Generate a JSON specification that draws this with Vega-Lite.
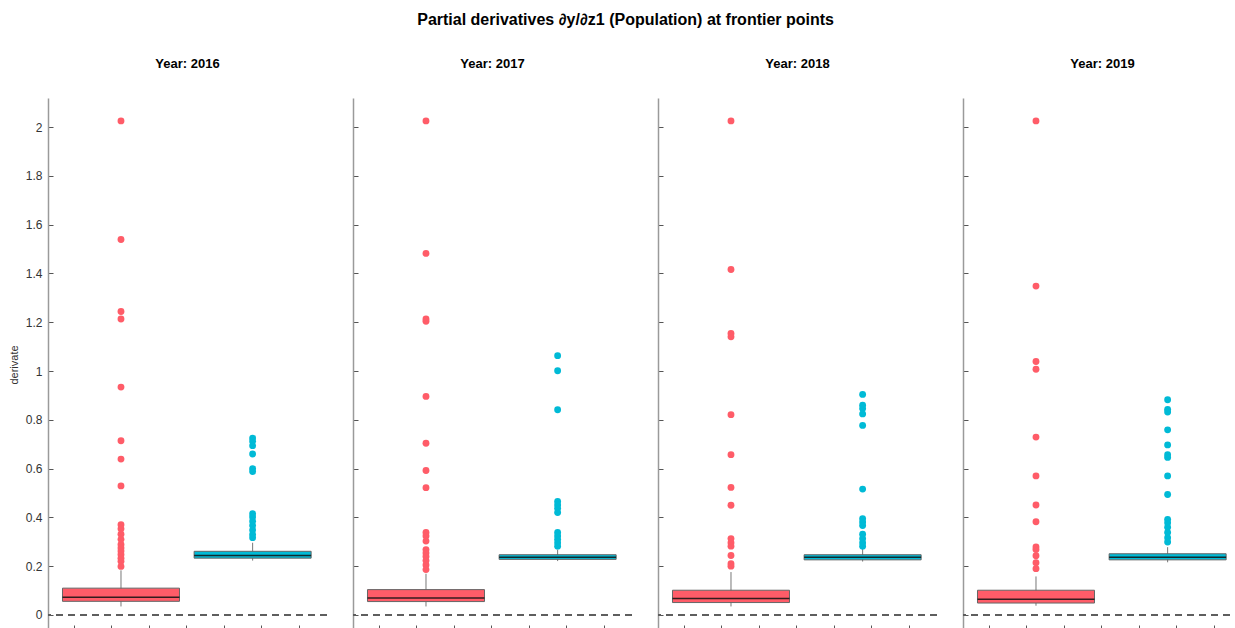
{
  "$schema": "https://vega.github.io/schema/vega-lite/v6.json",
  "padding": {"left": 8, "top": 12, "right": 5, "bottom": 0},
  "title": {"text": "Partial derivatives ∂y/∂z1 (Population) at frontier points", "fontSize": 16, "fontWeight": "bold", "color": "#000", "anchor": "middle", "offset": 30},
  "datasets": {
    "boxes": [
      {"year": 2016, "group": 1, "lower": 0.035, "q1": 0.056, "median": 0.073, "q3": 0.110, "upper": 0.183},
      {"year": 2016, "group": 2, "lower": 0.223, "q1": 0.233, "median": 0.244, "q3": 0.261, "upper": 0.296},
      {"year": 2017, "group": 1, "lower": 0.035, "q1": 0.055, "median": 0.070, "q3": 0.104, "upper": 0.169},
      {"year": 2017, "group": 2, "lower": 0.221, "q1": 0.228, "median": 0.237, "q3": 0.247, "upper": 0.268},
      {"year": 2018, "group": 1, "lower": 0.035, "q1": 0.051, "median": 0.068, "q3": 0.1015, "upper": 0.176},
      {"year": 2018, "group": 2, "lower": 0.219, "q1": 0.226, "median": 0.237, "q3": 0.247, "upper": 0.272},
      {"year": 2019, "group": 1, "lower": 0.038, "q1": 0.049, "median": 0.065, "q3": 0.1015, "upper": 0.158},
      {"year": 2019, "group": 2, "lower": 0.216, "q1": 0.226, "median": 0.237, "q3": 0.251, "upper": 0.278}
    ],
    "outliers": [
      {"year": 2016, "group": 1, "value": 2.025},
      {"year": 2016, "group": 1, "value": 1.539},
      {"year": 2016, "group": 1, "value": 1.244},
      {"year": 2016, "group": 1, "value": 1.213},
      {"year": 2016, "group": 1, "value": 0.934},
      {"year": 2016, "group": 1, "value": 0.714},
      {"year": 2016, "group": 1, "value": 0.639},
      {"year": 2016, "group": 1, "value": 0.529},
      {"year": 2016, "group": 1, "value": 0.370},
      {"year": 2016, "group": 1, "value": 0.353},
      {"year": 2016, "group": 1, "value": 0.331},
      {"year": 2016, "group": 1, "value": 0.310},
      {"year": 2016, "group": 1, "value": 0.289},
      {"year": 2016, "group": 1, "value": 0.275},
      {"year": 2016, "group": 1, "value": 0.262},
      {"year": 2016, "group": 1, "value": 0.248},
      {"year": 2016, "group": 1, "value": 0.233},
      {"year": 2016, "group": 1, "value": 0.220},
      {"year": 2016, "group": 1, "value": 0.199},
      {"year": 2016, "group": 2, "value": 0.725},
      {"year": 2016, "group": 2, "value": 0.712},
      {"year": 2016, "group": 2, "value": 0.694},
      {"year": 2016, "group": 2, "value": 0.660},
      {"year": 2016, "group": 2, "value": 0.600},
      {"year": 2016, "group": 2, "value": 0.588},
      {"year": 2016, "group": 2, "value": 0.415},
      {"year": 2016, "group": 2, "value": 0.402},
      {"year": 2016, "group": 2, "value": 0.384},
      {"year": 2016, "group": 2, "value": 0.367},
      {"year": 2016, "group": 2, "value": 0.348},
      {"year": 2016, "group": 2, "value": 0.330},
      {"year": 2016, "group": 2, "value": 0.317},
      {"year": 2017, "group": 1, "value": 2.025},
      {"year": 2017, "group": 1, "value": 1.482},
      {"year": 2017, "group": 1, "value": 1.213},
      {"year": 2017, "group": 1, "value": 1.204},
      {"year": 2017, "group": 1, "value": 0.896},
      {"year": 2017, "group": 1, "value": 0.704},
      {"year": 2017, "group": 1, "value": 0.592},
      {"year": 2017, "group": 1, "value": 0.522},
      {"year": 2017, "group": 1, "value": 0.338},
      {"year": 2017, "group": 1, "value": 0.324},
      {"year": 2017, "group": 1, "value": 0.303},
      {"year": 2017, "group": 1, "value": 0.268},
      {"year": 2017, "group": 1, "value": 0.254},
      {"year": 2017, "group": 1, "value": 0.240},
      {"year": 2017, "group": 1, "value": 0.223},
      {"year": 2017, "group": 1, "value": 0.205},
      {"year": 2017, "group": 1, "value": 0.186},
      {"year": 2017, "group": 2, "value": 1.063},
      {"year": 2017, "group": 2, "value": 1.001},
      {"year": 2017, "group": 2, "value": 0.841},
      {"year": 2017, "group": 2, "value": 0.465},
      {"year": 2017, "group": 2, "value": 0.451},
      {"year": 2017, "group": 2, "value": 0.437},
      {"year": 2017, "group": 2, "value": 0.420},
      {"year": 2017, "group": 2, "value": 0.338},
      {"year": 2017, "group": 2, "value": 0.324},
      {"year": 2017, "group": 2, "value": 0.310},
      {"year": 2017, "group": 2, "value": 0.296},
      {"year": 2017, "group": 2, "value": 0.282},
      {"year": 2018, "group": 1, "value": 2.025},
      {"year": 2018, "group": 1, "value": 1.416},
      {"year": 2018, "group": 1, "value": 1.154},
      {"year": 2018, "group": 1, "value": 1.140},
      {"year": 2018, "group": 1, "value": 0.821},
      {"year": 2018, "group": 1, "value": 0.657},
      {"year": 2018, "group": 1, "value": 0.523},
      {"year": 2018, "group": 1, "value": 0.450},
      {"year": 2018, "group": 1, "value": 0.313},
      {"year": 2018, "group": 1, "value": 0.296},
      {"year": 2018, "group": 1, "value": 0.282},
      {"year": 2018, "group": 1, "value": 0.244},
      {"year": 2018, "group": 1, "value": 0.210},
      {"year": 2018, "group": 1, "value": 0.200},
      {"year": 2018, "group": 2, "value": 0.904},
      {"year": 2018, "group": 2, "value": 0.860},
      {"year": 2018, "group": 2, "value": 0.846},
      {"year": 2018, "group": 2, "value": 0.824},
      {"year": 2018, "group": 2, "value": 0.777},
      {"year": 2018, "group": 2, "value": 0.516},
      {"year": 2018, "group": 2, "value": 0.395},
      {"year": 2018, "group": 2, "value": 0.381},
      {"year": 2018, "group": 2, "value": 0.367},
      {"year": 2018, "group": 2, "value": 0.331},
      {"year": 2018, "group": 2, "value": 0.313},
      {"year": 2018, "group": 2, "value": 0.296},
      {"year": 2018, "group": 2, "value": 0.282},
      {"year": 2019, "group": 1, "value": 2.025},
      {"year": 2019, "group": 1, "value": 1.348},
      {"year": 2019, "group": 1, "value": 1.039},
      {"year": 2019, "group": 1, "value": 1.007},
      {"year": 2019, "group": 1, "value": 0.729},
      {"year": 2019, "group": 1, "value": 0.570},
      {"year": 2019, "group": 1, "value": 0.451},
      {"year": 2019, "group": 1, "value": 0.382},
      {"year": 2019, "group": 1, "value": 0.279},
      {"year": 2019, "group": 1, "value": 0.268},
      {"year": 2019, "group": 1, "value": 0.243},
      {"year": 2019, "group": 1, "value": 0.214},
      {"year": 2019, "group": 1, "value": 0.190},
      {"year": 2019, "group": 2, "value": 0.882},
      {"year": 2019, "group": 2, "value": 0.843},
      {"year": 2019, "group": 2, "value": 0.832},
      {"year": 2019, "group": 2, "value": 0.759},
      {"year": 2019, "group": 2, "value": 0.697},
      {"year": 2019, "group": 2, "value": 0.657},
      {"year": 2019, "group": 2, "value": 0.646},
      {"year": 2019, "group": 2, "value": 0.570},
      {"year": 2019, "group": 2, "value": 0.494},
      {"year": 2019, "group": 2, "value": 0.392},
      {"year": 2019, "group": 2, "value": 0.378},
      {"year": 2019, "group": 2, "value": 0.360},
      {"year": 2019, "group": 2, "value": 0.338},
      {"year": 2019, "group": 2, "value": 0.317},
      {"year": 2019, "group": 2, "value": 0.299}
    ]
  },
  "spacing": 24,
  "hconcat": [
    {
      "width": 279, "height": 533,
      "title": {"text": "Year: 2016", "fontSize": 13, "fontWeight": "bold", "anchor": "middle", "offset": 27},
      "encoding": {
        "x": {"field": "group", "type": "quantitative", "scale": {"domain": [0.4835, 2.527], "nice": false, "zero": false}, "axis": {"values": [0.64, 0.925, 1.21, 1.495, 1.78, 2.065, 2.35], "labels": false, "title": null, "domain": false, "tickSize": -6}},
        "y": {"type": "quantitative", "scale": {"domain": [-0.0656, 2.1189], "nice": false, "zero": false}, "axis": {"values": [0, 0.2, 0.4, 0.6, 0.8, 1, 1.2, 1.4, 1.6, 1.8, 2], "format": "~g", "title": "derivate", "tickSize": -5, "labelPadding": 11, "titlePadding": 6}}
      },
      "layer": [
        {"data": {"values": [{}]}, "mark": {"type": "rule", "color": "#5e5e5e", "strokeDash": [7, 5], "strokeWidth": 1.8}, "encoding": {"x": null, "y": {"datum": 0, "type": "quantitative"}}},
        {"data": {"name": "boxes"}, "transform": [{"filter": "datum.year == 2016"}], "mark": {"type": "rule", "color": "#777", "strokeWidth": 1}, "encoding": {"y": {"field": "lower"}, "y2": {"field": "upper"}}},
        {"data": {"name": "boxes"}, "transform": [{"filter": "datum.year == 2016"}], "mark": {"type": "bar", "width": 117, "stroke": "#666", "strokeWidth": 1, "opacity": 1}, "encoding": {"y": {"field": "q1"}, "y2": {"field": "q3"}, "color": {"field": "group", "type": "nominal", "scale": {"domain": [1, 2], "range": ["#FF5C68", "#00BAD6"]}, "legend": null}}},
        {"data": {"name": "boxes"}, "transform": [{"filter": "datum.year == 2016"}], "mark": {"type": "tick", "orient": "horizontal", "size": 117, "thickness": 1.5, "color": "#111", "opacity": 0.85}, "encoding": {"y": {"field": "median"}}},
        {"data": {"name": "outliers"}, "transform": [{"filter": "datum.year == 2016"}], "mark": {"type": "circle", "size": 47, "opacity": 1}, "encoding": {"y": {"field": "value"}, "color": {"field": "group", "type": "nominal", "scale": {"domain": [1, 2], "range": ["#FF5C68", "#00BAD6"]}, "legend": null}}}
      ]
    },
    {
      "width": 279, "height": 533,
      "title": {"text": "Year: 2017", "fontSize": 13, "fontWeight": "bold", "anchor": "middle", "offset": 27},
      "encoding": {
        "x": {"field": "group", "type": "quantitative", "scale": {"domain": [0.4835, 2.527], "nice": false, "zero": false}, "axis": {"values": [0.64, 0.925, 1.21, 1.495, 1.78, 2.065, 2.35], "labels": false, "title": null, "domain": false, "tickSize": -6}},
        "y": {"type": "quantitative", "scale": {"domain": [-0.0656, 2.1189], "nice": false, "zero": false}, "axis": {"values": [0, 0.2, 0.4, 0.6, 0.8, 1, 1.2, 1.4, 1.6, 1.8, 2], "labels": false, "title": null, "tickSize": -5}}
      },
      "layer": [
        {"data": {"values": [{}]}, "mark": {"type": "rule", "color": "#5e5e5e", "strokeDash": [7, 5], "strokeWidth": 1.8}, "encoding": {"x": null, "y": {"datum": 0, "type": "quantitative"}}},
        {"data": {"name": "boxes"}, "transform": [{"filter": "datum.year == 2017"}], "mark": {"type": "rule", "color": "#777", "strokeWidth": 1}, "encoding": {"y": {"field": "lower"}, "y2": {"field": "upper"}}},
        {"data": {"name": "boxes"}, "transform": [{"filter": "datum.year == 2017"}], "mark": {"type": "bar", "width": 117, "stroke": "#666", "strokeWidth": 1, "opacity": 1}, "encoding": {"y": {"field": "q1"}, "y2": {"field": "q3"}, "color": {"field": "group", "type": "nominal", "scale": {"domain": [1, 2], "range": ["#FF5C68", "#00BAD6"]}, "legend": null}}},
        {"data": {"name": "boxes"}, "transform": [{"filter": "datum.year == 2017"}], "mark": {"type": "tick", "orient": "horizontal", "size": 117, "thickness": 1.5, "color": "#111", "opacity": 0.85}, "encoding": {"y": {"field": "median"}}},
        {"data": {"name": "outliers"}, "transform": [{"filter": "datum.year == 2017"}], "mark": {"type": "circle", "size": 47, "opacity": 1}, "encoding": {"y": {"field": "value"}, "color": {"field": "group", "type": "nominal", "scale": {"domain": [1, 2], "range": ["#FF5C68", "#00BAD6"]}, "legend": null}}}
      ]
    },
    {
      "width": 279, "height": 533,
      "title": {"text": "Year: 2018", "fontSize": 13, "fontWeight": "bold", "anchor": "middle", "offset": 27},
      "encoding": {
        "x": {"field": "group", "type": "quantitative", "scale": {"domain": [0.4835, 2.527], "nice": false, "zero": false}, "axis": {"values": [0.64, 0.925, 1.21, 1.495, 1.78, 2.065, 2.35], "labels": false, "title": null, "domain": false, "tickSize": -6}},
        "y": {"type": "quantitative", "scale": {"domain": [-0.0656, 2.1189], "nice": false, "zero": false}, "axis": {"values": [0, 0.2, 0.4, 0.6, 0.8, 1, 1.2, 1.4, 1.6, 1.8, 2], "labels": false, "title": null, "tickSize": -5}}
      },
      "layer": [
        {"data": {"values": [{}]}, "mark": {"type": "rule", "color": "#5e5e5e", "strokeDash": [7, 5], "strokeWidth": 1.8}, "encoding": {"x": null, "y": {"datum": 0, "type": "quantitative"}}},
        {"data": {"name": "boxes"}, "transform": [{"filter": "datum.year == 2018"}], "mark": {"type": "rule", "color": "#777", "strokeWidth": 1}, "encoding": {"y": {"field": "lower"}, "y2": {"field": "upper"}}},
        {"data": {"name": "boxes"}, "transform": [{"filter": "datum.year == 2018"}], "mark": {"type": "bar", "width": 117, "stroke": "#666", "strokeWidth": 1, "opacity": 1}, "encoding": {"y": {"field": "q1"}, "y2": {"field": "q3"}, "color": {"field": "group", "type": "nominal", "scale": {"domain": [1, 2], "range": ["#FF5C68", "#00BAD6"]}, "legend": null}}},
        {"data": {"name": "boxes"}, "transform": [{"filter": "datum.year == 2018"}], "mark": {"type": "tick", "orient": "horizontal", "size": 117, "thickness": 1.5, "color": "#111", "opacity": 0.85}, "encoding": {"y": {"field": "median"}}},
        {"data": {"name": "outliers"}, "transform": [{"filter": "datum.year == 2018"}], "mark": {"type": "circle", "size": 47, "opacity": 1}, "encoding": {"y": {"field": "value"}, "color": {"field": "group", "type": "nominal", "scale": {"domain": [1, 2], "range": ["#FF5C68", "#00BAD6"]}, "legend": null}}}
      ]
    },
    {
      "width": 279, "height": 533,
      "title": {"text": "Year: 2019", "fontSize": 13, "fontWeight": "bold", "anchor": "middle", "offset": 27},
      "encoding": {
        "x": {"field": "group", "type": "quantitative", "scale": {"domain": [0.4835, 2.527], "nice": false, "zero": false}, "axis": {"values": [0.64, 0.925, 1.21, 1.495, 1.78, 2.065, 2.35], "labels": false, "title": null, "domain": false, "tickSize": -6}},
        "y": {"type": "quantitative", "scale": {"domain": [-0.0656, 2.1189], "nice": false, "zero": false}, "axis": {"values": [0, 0.2, 0.4, 0.6, 0.8, 1, 1.2, 1.4, 1.6, 1.8, 2], "labels": false, "title": null, "tickSize": -5}}
      },
      "layer": [
        {"data": {"values": [{}]}, "mark": {"type": "rule", "color": "#5e5e5e", "strokeDash": [7, 5], "strokeWidth": 1.8}, "encoding": {"x": null, "y": {"datum": 0, "type": "quantitative"}}},
        {"data": {"name": "boxes"}, "transform": [{"filter": "datum.year == 2019"}], "mark": {"type": "rule", "color": "#777", "strokeWidth": 1}, "encoding": {"y": {"field": "lower"}, "y2": {"field": "upper"}}},
        {"data": {"name": "boxes"}, "transform": [{"filter": "datum.year == 2019"}], "mark": {"type": "bar", "width": 117, "stroke": "#666", "strokeWidth": 1, "opacity": 1}, "encoding": {"y": {"field": "q1"}, "y2": {"field": "q3"}, "color": {"field": "group", "type": "nominal", "scale": {"domain": [1, 2], "range": ["#FF5C68", "#00BAD6"]}, "legend": null}}},
        {"data": {"name": "boxes"}, "transform": [{"filter": "datum.year == 2019"}], "mark": {"type": "tick", "orient": "horizontal", "size": 117, "thickness": 1.5, "color": "#111", "opacity": 0.85}, "encoding": {"y": {"field": "median"}}},
        {"data": {"name": "outliers"}, "transform": [{"filter": "datum.year == 2019"}], "mark": {"type": "circle", "size": 47, "opacity": 1}, "encoding": {"y": {"field": "value"}, "color": {"field": "group", "type": "nominal", "scale": {"domain": [1, 2], "range": ["#FF5C68", "#00BAD6"]}, "legend": null}}}
      ]
    }
  ],
  "config": {
    "font": "Liberation Sans",
    "view": {"stroke": null},
    "axis": {"grid": false, "domainColor": "#9a9a9a", "domainWidth": 1.5, "tickColor": "#555", "tickWidth": 1, "labelColor": "#333", "labelFontSize": 12, "titleFontSize": 11, "titleFontWeight": "normal", "titleColor": "#333"}
  }
}
